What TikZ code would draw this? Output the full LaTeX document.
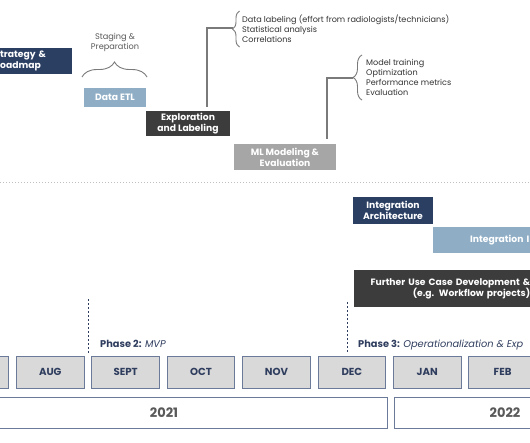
\documentclass[tikz,border=0pt]{standalone}
\usepackage{fontspec}
\setmainfont{Poppins}
\usetikzlibrary{decorations.pathreplacing,calc}
\definecolor{navy}{HTML}{2B3F63}
\definecolor{lblue}{HTML}{8FAEC6}
\definecolor{dgray}{HTML}{3C3C3C}
\definecolor{mgray}{HTML}{A6A6A6}
\definecolor{monthfill}{HTML}{D9D9D9}
\definecolor{slate}{HTML}{6A7A98}
\definecolor{monthtxt}{HTML}{2F3D5E}
\definecolor{linegray}{HTML}{7A7A7A}
\begin{document}
\begin{tikzpicture}[x=1pt,y=-1pt,
  boxbase/.style={inner sep=0pt, text=white, font=\bfseries\fontsize{9.2}{11}\selectfont, align=center},
  navybox/.style={boxbase, fill=navy},
  bluebox/.style={boxbase, fill=lblue},
  darkbox/.style={boxbase, fill=dgray},
  greybox/.style={boxbase, fill=mgray},
  month/.style={draw=slate, line width=1pt, fill=monthfill, minimum width=67.5pt, minimum height=32pt, inner sep=0pt, anchor=west, text=monthtxt, font=\bfseries\fontsize{10.2}{11}\selectfont},
  yearbox/.style={draw=slate, line width=1pt, fill=white, minimum height=31pt, inner sep=0pt, text=black!65, font=\bfseries\fontsize{13}{14}\selectfont},
  note/.style={inner sep=0pt, text=black!80, font=\fontsize{8.1}{10.2}\selectfont, align=left, anchor=west},
  conn/.style={draw=linegray, line width=1.1pt},
  bracestyle/.style={draw=linegray, line width=0.9pt, decorate},
  phaseline/.style={draw=monthtxt, line width=0.8pt, dash pattern=on 2pt off 2pt},
  phase/.style={inner sep=0pt, anchor=base west, text=monthtxt, font=\fontsize{9.8}{11}\selectfont},
]
\useasboundingbox (0,0) rectangle (530,442);
\fill[white] (0,0) rectangle (530,442);

% ---- top part ----
\node[navybox, anchor=west, text width=72pt, minimum height=26pt, align=left] (strat) at (0,61) {trategy \&\\oadmap};

\node[inner sep=0pt, text=black!65, font=\fontsize{8.2}{10}\selectfont, align=center] (staging) at (115,42) {Staging \&\\Preparation};
\coordinate (b0l) at (82,77);
\coordinate (b0r) at (147,77);
\draw[bracestyle, decoration={brace, amplitude=15pt}] (b0l) -- (b0r);

\node[bluebox, minimum width=62pt, minimum height=19pt] (etl) at (115,97.5) {Data ETL};
\node[darkbox, minimum width=84pt, minimum height=25pt] (explo) at (188,123.5) {Exploration\\and Labeling};
\node[greybox, minimum width=102pt, minimum height=26pt] (ml) at (285,157) {ML Modeling \&\\Evaluation};

% list 1
\coordinate (b1b) at (239.5,47);
\coordinate (b1t) at (239.5,11);
\coordinate (tip1) at (232.5,28);
\draw[bracestyle, decoration={brace, amplitude=7pt}] (b1b) -- (b1t);
\node[note] (list1) at (242,28.5) {Data labeling (effort from radiologists/technicians)\\Statistical analysis\\Correlations};
\draw[conn] ([xshift=19pt,yshift=4pt]explo.north) |- (tip1);

% list 2
\coordinate (b2b) at (362,100);
\coordinate (b2t) at (362,55);
\coordinate (tip2) at (353,78);
\draw[bracestyle, decoration={brace, amplitude=9pt}] (b2b) -- (b2t);
\node[note] (list2) at (366,77.5) {Model training\\Optimization\\Performance metrics\\Evaluation};
\draw[conn] ([xshift=42pt,yshift=5pt]ml.north) |- (tip2);

% dotted separator
\coordinate (dl) at (0,182.5);
\coordinate (dr) at (530,182.5);
\draw[draw=black!25, line width=1.2pt, dash pattern=on 1.2pt off 1.8pt] (dl) -- (dr);

% ---- lower part ----
\node[navybox, minimum width=80pt, minimum height=27pt] (intarch) at (393,210.5) {Integration\\Architecture};
\node[bluebox, anchor=west, text width=120pt, minimum height=26pt, align=left] (intimp) at (433,240) {\hspace*{37pt}Integration I};
\node[darkbox, anchor=west, text width=176pt, minimum height=37pt, align=right] (further) at (354,288.5) {Further Use Case Development \&\\(e.g. Workflow projects)};

% phases
\coordinate (p2t) at (88,299);
\coordinate (p2b) at (88,353);
\coordinate (p3t) at (347,302);
\coordinate (p3b) at (347,353);
\draw[phaseline] (p2t) -- (p2b);
\draw[phaseline] (p3t) -- (p3b);
\node[phase] (ph2) at (100,347) {\textbf{Phase 2:} \textit{MVP}};
\node[phase] (ph3) at (358,347) {\textbf{Phase 3:} \textit{Operationalization \& Exp}};

% months
\node[month] (jul) at (-59.4,372) {};
\node[month] (aug) at (16,372) {AUG};
\node[month] (sep) at (91.4,372) {SEPT};
\node[month] (oct) at (166.8,372) {OCT};
\node[month] (nov) at (242.2,372) {NOV};
\node[month] (dec) at (317.6,372) {DEC};
\node[month] (jan) at (393,372) {JAN};
\node[month] (feb) at (468.4,372) {FEB};

% years
\node[yearbox, minimum width=446pt] (y21) at (164,412.5) {2021};
\node[yearbox, minimum width=222pt] (y22) at (505,412.5) {2022};
\end{tikzpicture}
\end{document}
